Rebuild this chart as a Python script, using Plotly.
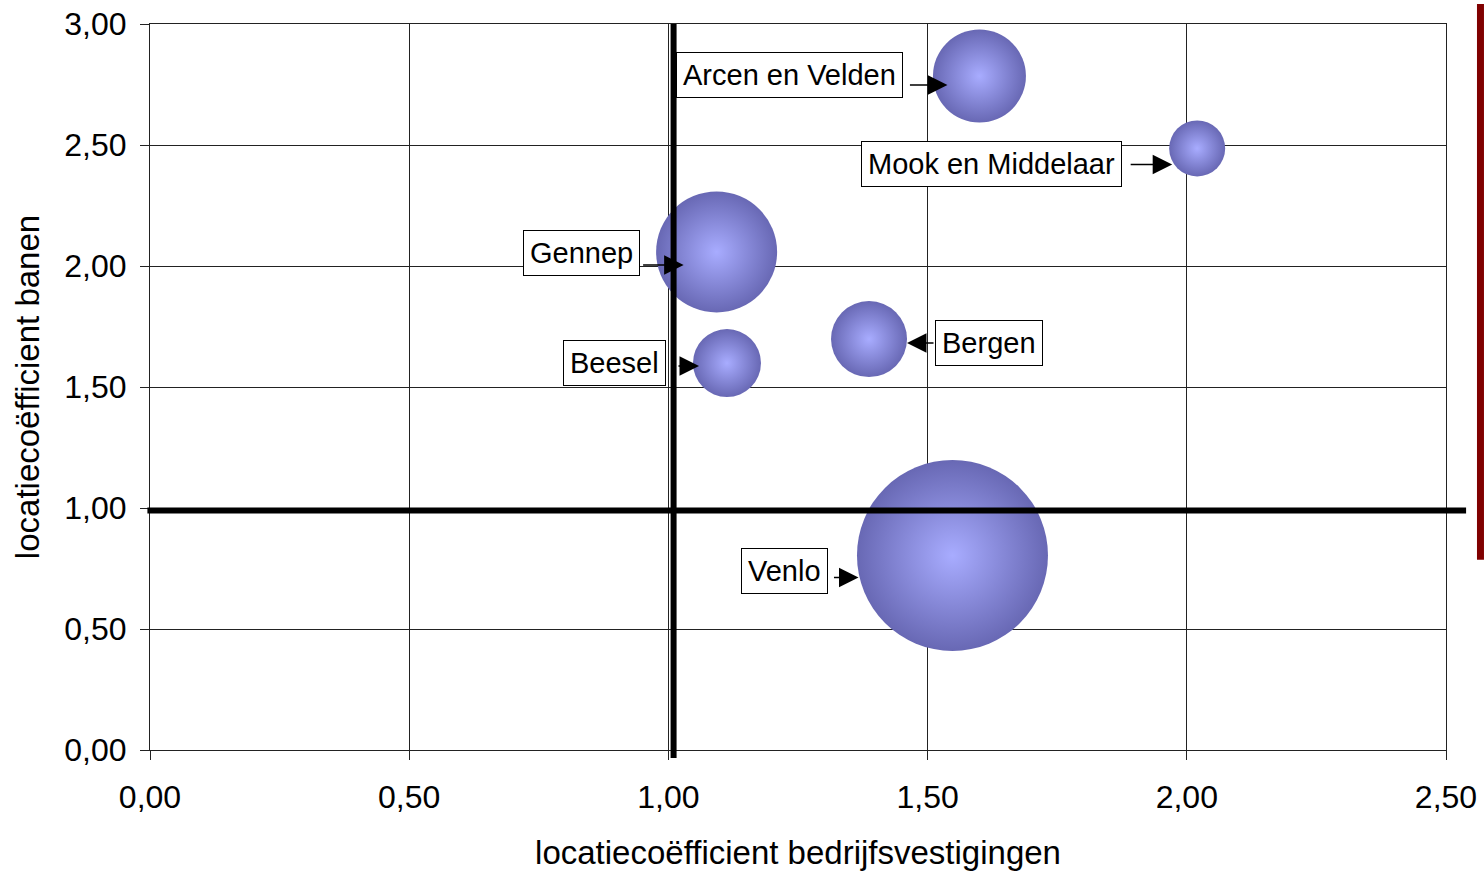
import plotly.graph_objects as go

gemeenten = ["Arcen en Velden", "Mook en Middelaar", "Gennep", "Bergen", "Beesel", "Venlo"]
lq_vestigingen = [1.600, 2.020, 1.093, 1.387, 1.113, 1.548]
lq_banen = [2.785, 2.486, 2.058, 1.698, 1.599, 0.804]
omvang = [93, 56, 121, 76, 68, 191]

grens_x = 1.01
grens_y = 0.99

# label box offsets (px from bubble centre) and arrow tip offsets / tail lengths
label_shift = [(-190, 1), (-206, -16), (-135, -1), (120, -4), (-112, 0), (-168, -16)]
pijl_shift = [(-32, -9), (-25, -16), (-33, -13), (38, -4), (-28, -3), (-94, -22)]
pijl_len = [-39, -43, -42, 28, -22, -26]

FONT = "Liberation Sans, Arial, sans-serif"
X_MAX, Y_MAX = 2.5, 3.0

fig = go.Figure()
fig.add_trace(go.Scatter(
    x=lq_vestigingen, y=lq_banen, mode="markers",
    marker=dict(size=omvang, sizemode="diameter", sizeref=1,
                color="#6868b4", line=dict(width=0),
                gradient=dict(type="radial", color="#a8acff"), opacity=1),
    hoverinfo="text", text=gemeenten, showlegend=False,
))

annotations = []
for i, naam in enumerate(gemeenten):
    annotations.append(dict(
        x=lq_vestigingen[i], y=lq_banen[i], xref="x", yref="y",
        text=naam, showarrow=False, xshift=label_shift[i][0], yshift=label_shift[i][1],
        font=dict(family=FONT, size=29, color="black"),
        bgcolor="white", bordercolor="black", borderwidth=1, borderpad=6,
    ))
    annotations.append(dict(
        x=lq_vestigingen[i], y=lq_banen[i], xref="x", yref="y",
        text="", showarrow=True, ax=pijl_len[i], ay=0,
        xshift=pijl_shift[i][0], yshift=pijl_shift[i][1],
        arrowhead=2, arrowsize=2.6, arrowwidth=1.5, arrowcolor="black",
    ))

shapes = [
    dict(type="line", xref="paper", yref="paper", x0=-0.002, x1=1.0155,
         y0=grens_y / Y_MAX, y1=grens_y / Y_MAX, line=dict(color="black", width=6)),
    dict(type="line", xref="paper", yref="paper", x0=grens_x / X_MAX, x1=grens_x / X_MAX,
         y0=-0.011, y1=1.0, line=dict(color="black", width=6)),
    dict(type="line", xref="paper", yref="paper", x0=1.0266, x1=1.0266,
         y0=0.262, y1=1.0275, line=dict(color="#800000", width=7)),
]

axis_common = dict(
    showgrid=True, gridcolor="#222222", gridwidth=1,
    showline=True, linecolor="#222222", linewidth=1, mirror=True,
    ticks="outside", ticklen=9, tickcolor="#222222", tickwidth=1,
    tickformat=".2f", dtick=0.5, zeroline=False, automargin=False,
    tickfont=dict(family=FONT, size=32, color="black"),
)

fig.update_layout(
    width=1484, height=871,
    margin=dict(l=150, r=38, t=24, b=121, autoexpand=False),
    paper_bgcolor="white", plot_bgcolor="white",
    separators=",.",
    xaxis=dict(range=[0, X_MAX], tick0=0, ticklabelstandoff=10,
               title=dict(text="locatiecoëfficient bedrijfsvestigingen",
                          font=dict(family=FONT, size=33, color="black"), standoff=26),
               **axis_common),
    yaxis=dict(range=[0, Y_MAX], tick0=0, ticklabelstandoff=7,
               title=dict(text="locatiecoëfficient banen",
                          font=dict(family=FONT, size=33, color="black"), standoff=14),
               **axis_common),
    annotations=annotations,
    shapes=shapes,
)

fig.write_html("out.html", config={"displayModeBar": False},
               post_script="document.body.style.margin='0';")
